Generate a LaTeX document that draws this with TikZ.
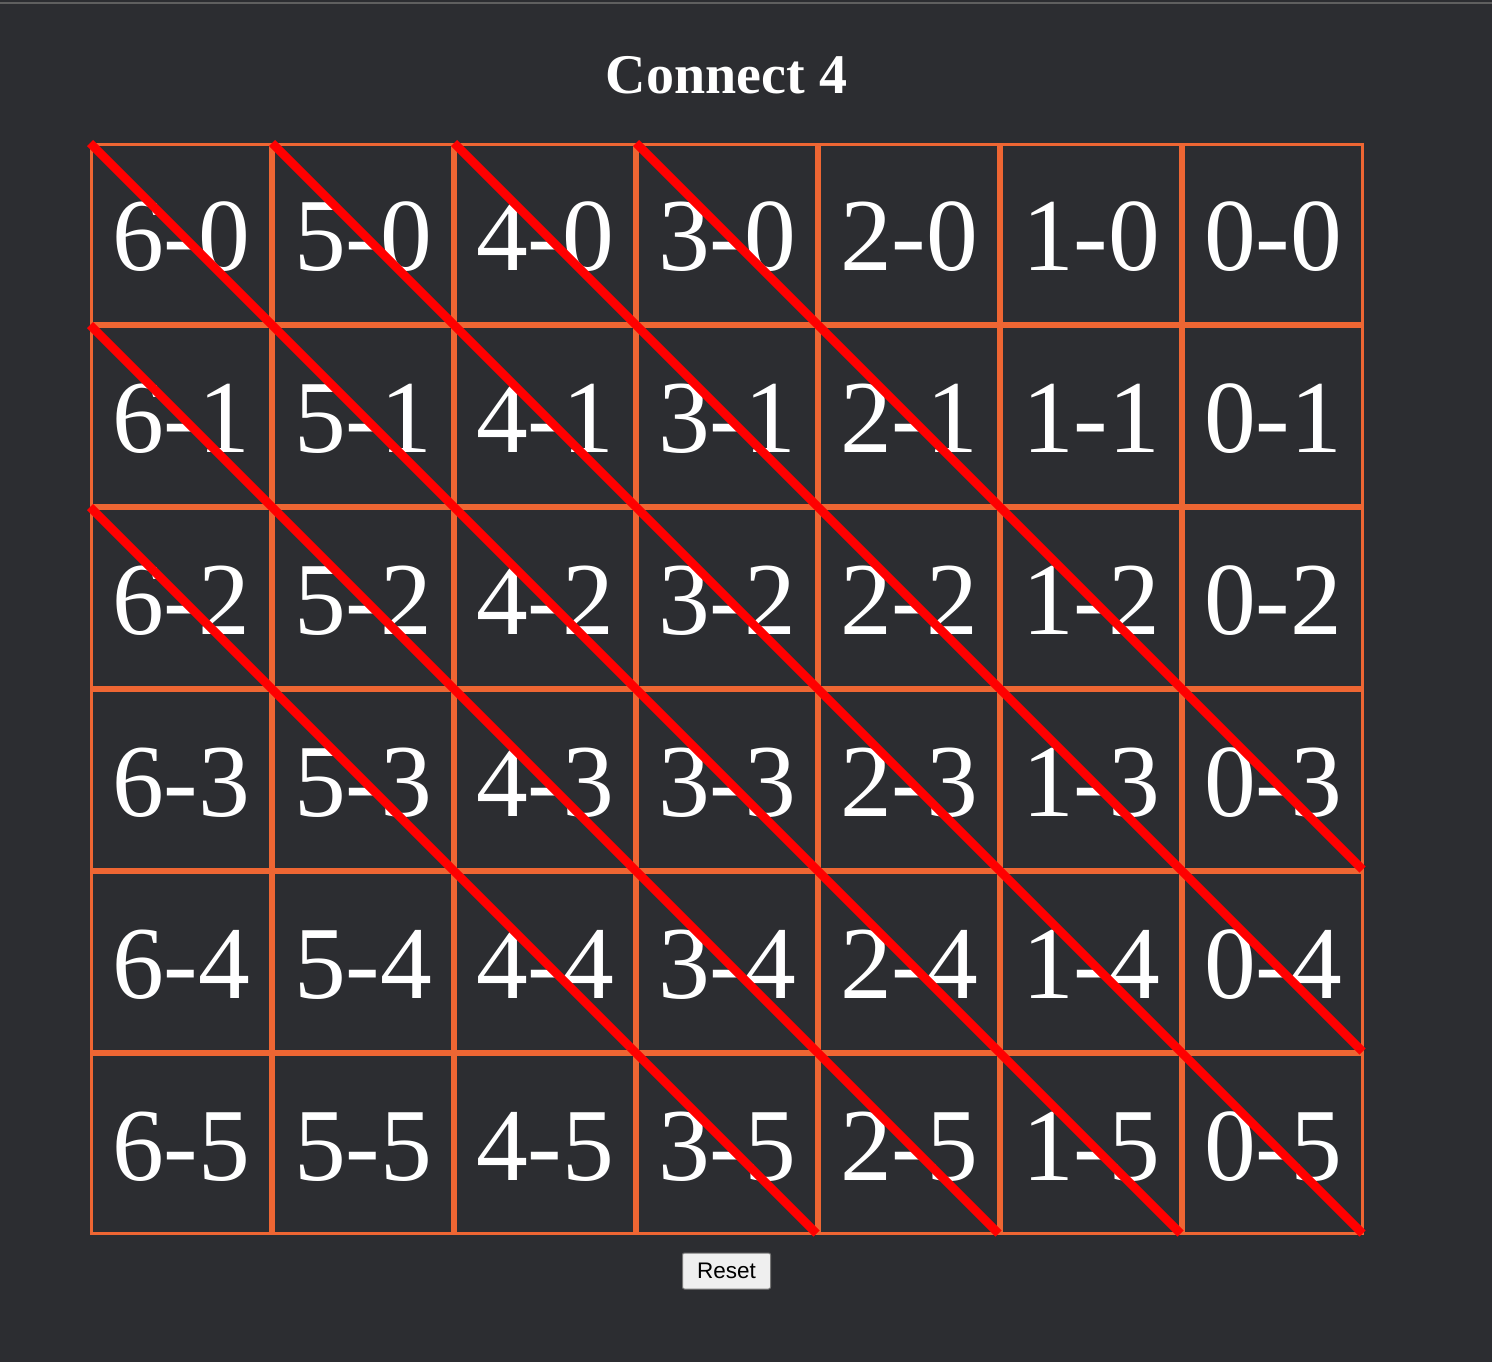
\documentclass[tikz,border=0pt]{standalone}
\usepackage{fontspec}
\setmainfont{Liberation Serif}
\newfontfamily\btnfont{Liberation Sans}
\definecolor{bg}{HTML}{2C2D31}
\definecolor{cellline}{HTML}{EE6633}
\definecolor{winred}{HTML}{FF0000}
\definecolor{btnfill}{HTML}{EFEFEF}
\definecolor{btnline}{HTML}{767676}
\definecolor{topline}{HTML}{5F5F5F}
\begin{document}
\begin{tikzpicture}[x=1pt,y=-1pt,
  cell/.style={draw=cellline, line width=3pt, minimum width=179pt, minimum height=179pt, inner sep=0pt},
  celltext/.style={text=white, anchor=base, inner sep=0pt, font=\fontsize{103.5}{110}\selectfont},
  winline/.style={draw=winred, line width=8.5pt, shorten >=2pt},
  titletext/.style={text=white, anchor=base, inner sep=0pt, font=\bfseries\fontsize{56}{60}\selectfont},
  button/.style={fill=btnfill, draw=btnline, line width=1pt, rounded corners=2pt, minimum width=88pt, minimum height=36pt, inner sep=0pt, font=\btnfont\fontsize{22.5}{24}\selectfont, text=black}
]
\fill[bg] (0,0) rectangle (1492,1362);
\useasboundingbox (0,0) rectangle (1492,1362);
\fill[topline] (0,2.5) rectangle (1492,4);
\node[titletext] (title) at (726.5,94) {Connect 4};
\foreach \i in {0,...,6} {
  \foreach \j in {0,...,5} {
    \pgfmathtruncatemacro{\lbl}{6-\i}
    \node[cell] (c-\i-\j) at ({90+182*\i+91},{143+182*\j+91}) {};
    \node[celltext] (t-\i-\j) at ({90+182*\i+91},{143+182*\j+127}) {\lbl-\j};
  }
}
\foreach \i in {0,...,7} {
  \foreach \j in {0,...,6} {
    \coordinate (g-\i-\j) at ({90+182*\i},{143+182*\j});
  }
}
\draw[winline] (g-0-2) -- (g-4-6);
\draw[winline] (g-0-1) -- (g-5-6);
\draw[winline] (g-0-0) -- (g-6-6);
\draw[winline] (g-1-0) -- (g-7-6);
\draw[winline] (g-2-0) -- (g-7-5);
\draw[winline] (g-3-0) -- (g-7-4);
\node[button] (reset) at (726.5,1271) {Reset};
\end{tikzpicture}
\end{document}
